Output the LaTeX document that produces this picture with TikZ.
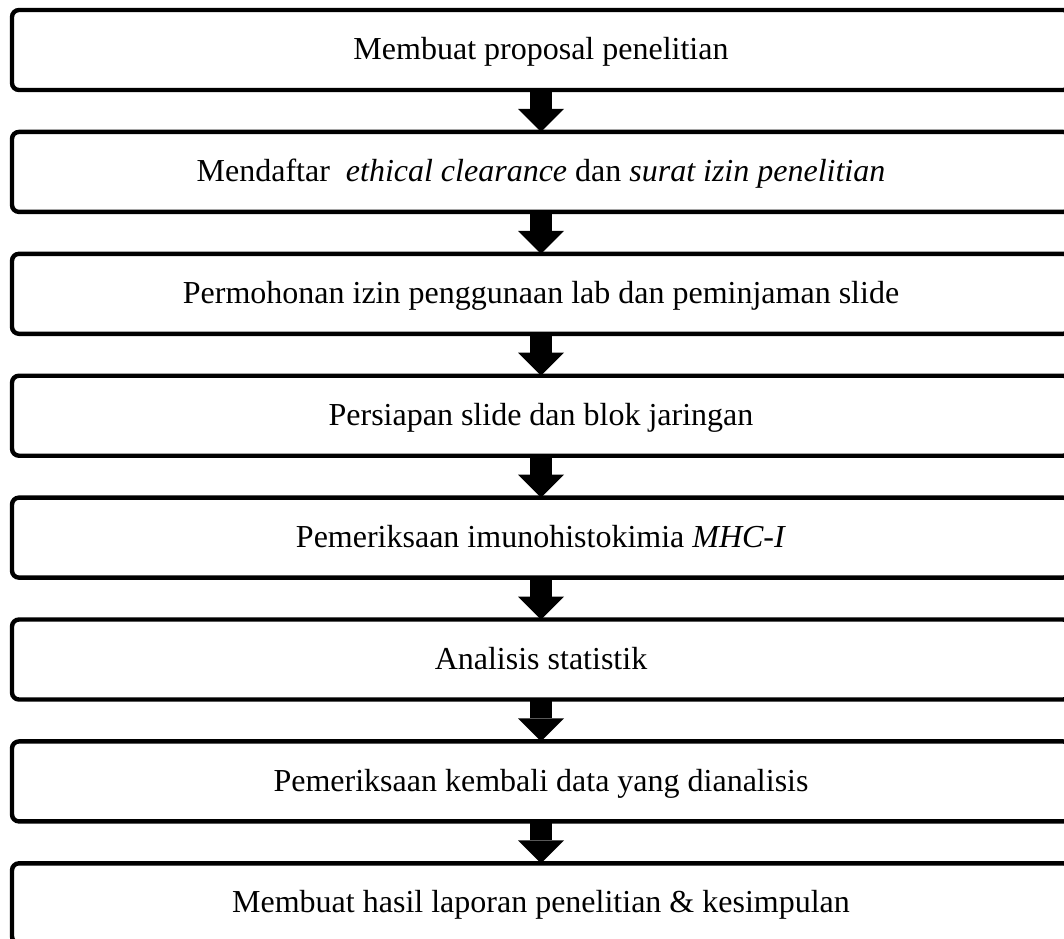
\documentclass[tikz,border=0pt]{standalone}
\usepackage{fontspec}
\setmainfont{Liberation Serif}
\usetikzlibrary{positioning,arrows.meta}

\tikzset{
    stepbox/.style={draw, line width=2.2pt, rounded corners=3.5pt,
        minimum width=529pt, minimum height=40pt, inner sep=0pt, outer sep=0pt,
        text height=13pt, text depth=3.4pt,
        font=\fontsize{16}{19}\selectfont},
    blockarrow/.style={line width=11pt,
        -{Triangle[length=11.5pt 0, width=23pt 0, line width=0pt]}},
}

\begin{document}
\begin{tikzpicture}[node distance=20.95pt]
        \useasboundingbox (0,0) rectangle (532pt,-469pt);

        % alur penelitian
        \node[stepbox] (proposal) at (270.5pt,-25pt) {Membuat proposal penelitian};
        \node[stepbox, below=of proposal] (izin) {Mendaftar~ \textit{ethical clearance} dan \textit{surat izin penelitian}};
        \node[stepbox, below=of izin] (lab) {Permohonan izin penggunaan lab dan peminjaman slide};
        \node[stepbox, below=of lab] (slide) {Persiapan slide dan blok jaringan};
        \node[stepbox, below=of slide] (ihk) {Pemeriksaan imunohistokimia \textit{MHC-I}};
        \node[stepbox, below=of ihk] (analisis) {Analisis statistik};
        \node[stepbox, below=of analisis] (cek) {Pemeriksaan kembali data yang dianalisis};
        \node[stepbox, below=of cek] (laporan) {Membuat hasil laporan penelitian \& kesimpulan};

        \foreach \a/\b in {proposal/izin, izin/lab, lab/slide, slide/ihk,
                           ihk/analisis, analisis/cek, cek/laporan}
            \draw[blockarrow] (\a.south) -- (\b.north);
\end{tikzpicture}
\end{document}
